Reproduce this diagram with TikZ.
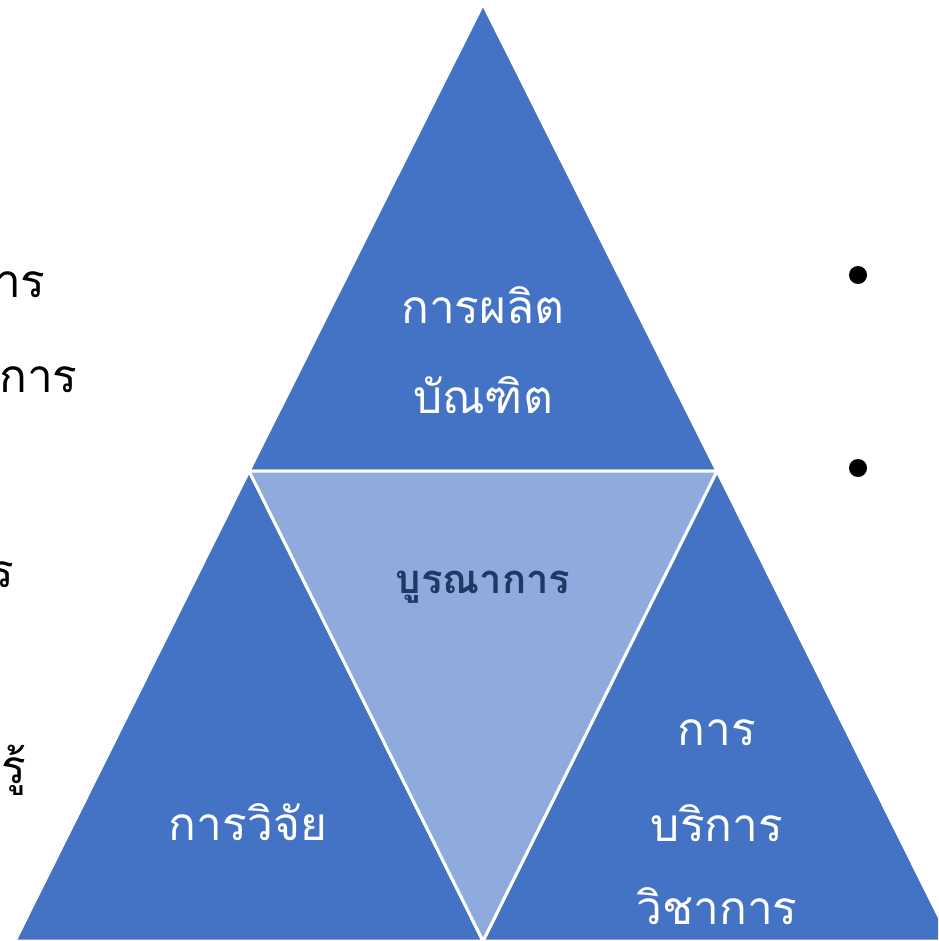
\documentclass[tikz,border=0pt]{standalone}
\usepackage{fontspec}
\newfontfamily\thaifont[Script=Thai]{Loma}
\definecolor{darkblue}{HTML}{4472C4}
\definecolor{lightblue}{HTML}{8FAADC}
\definecolor{navy}{HTML}{203864}

\begin{document}
\begin{tikzpicture}[
      x=0.5pt, y=-0.5pt,
      part/.style={fill=darkblue, draw=white, line width=1.5pt, line join=miter},
      core/.style={fill=lightblue, draw=white, line width=1.5pt},
      label/.style={font=\thaifont\fontsize{23}{23}\selectfont, text=white, inner sep=0pt},
      corelabel/.style={font=\thaifont\bfseries\fontsize{20}{20}\selectfont, text=navy, inner sep=0pt},
      side/.style={font=\thaifont\fontsize{23}{23}\selectfont, text=black, inner sep=0pt, anchor=east},
      bullet/.style={circle, fill=black, minimum size=9pt, inner sep=0pt}
      ]

      \useasboundingbox (0,0) rectangle (938,941);
      \clip (0,0) rectangle (938,941);

      %corners
      \coordinate (apex) at (483,4);
      \coordinate (midleft) at (249,471);
      \coordinate (midright) at (717,471);
      \coordinate (baseleft) at (15,941);
      \coordinate (basemid) at (483,941);
      \coordinate (baseright) at (951,941);

      %triangles
      \path[part] (apex) -- (midright) -- (midleft) -- cycle;
      \path[part] (midleft) -- (basemid) -- (baseleft) -- cycle;
      \path[part] (midright) -- (baseright) -- (basemid) -- cycle;
      \path[core] (midleft) -- (midright) -- (basemid) -- cycle;

      %labels
      \node[label] (graduate) at (483,305) {การผลิต};
      \node[label] (graduatetwo) at (483,395) {บัณฑิต};
      \node[corelabel] (integration) at (483,587) {บูรณาการ};
      \node[label] (research) at (248,822) {การวิจัย};
      \node[label] (service) at (717,733) {การ};
      \node[label] (servicetwo) at (717,823) {บริการ};
      \node[label] (servicethree) at (717,906) {วิชาการ};

      %left text
      \node[side] (leftone) at (46,285) {การ};
      \node[side] (lefttwo) at (78,380) {มการ};
      \node[side] (leftthree) at (15,575) {าร};
      \node[side] (leftfour) at (27,770) {มรู้};

      %bullets
      \node[bullet] (bulletone) at (858,275) {};
      \node[bullet] (bullettwo) at (858,468) {};
    \end{tikzpicture}
\end{document}
